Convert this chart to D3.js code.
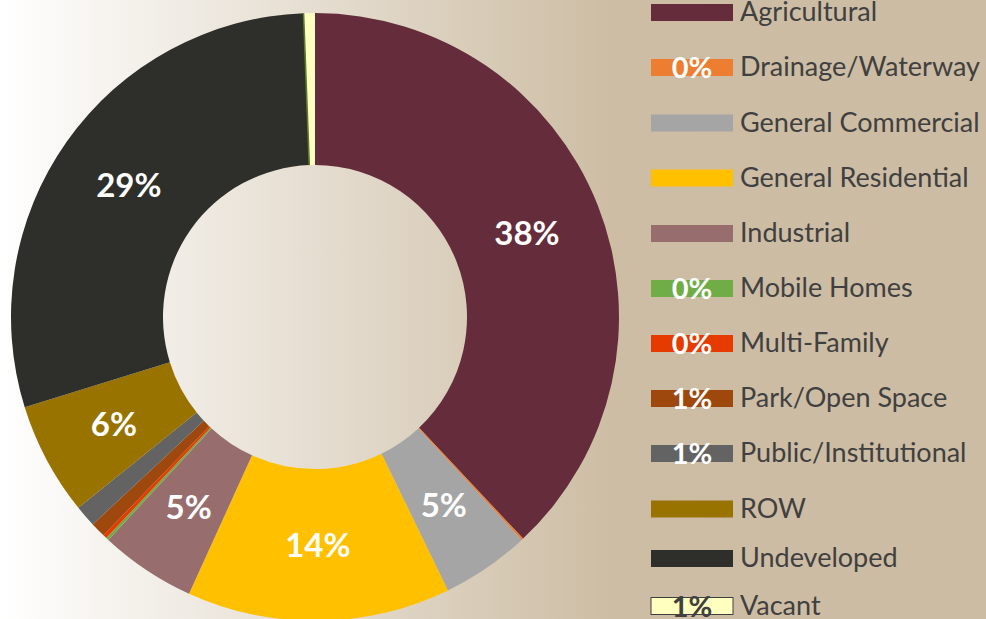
<!DOCTYPE html>
<html>
<head>
<meta charset="utf-8">
<script src="https://cdn.jsdelivr.net/npm/d3@7"></script>
<style>
  html, body { margin: 0; padding: 0; background: #cdbda4; }
  svg { display: block; }
</style>
</head>
<body>
<svg id="chart" width="986" height="619"></svg>
<script>
// Land use categories and their share of total area (%)
const categories = [
  "Agricultural", "Drainage/Waterway", "General Commercial", "General Residential",
  "Industrial", "Mobile Homes", "Multi-Family", "Park/Open Space",
  "Public/Institutional", "ROW", "Undeveloped", "Vacant"
];
const shares = [38.0, 0.1, 4.7, 14.0, 5.1, 0.15, 0.2, 0.8, 1.15, 6.0, 29.2, 0.6];
const colors = [
  "#652c3b", "#ed7d31", "#a5a5a5", "#ffc000",
  "#976d6e", "#70ad47", "#e53a00", "#9e480e",
  "#636363", "#997300", "#2e2f2a", "#ffffc0"
];

const W = 986, H = 619;
const cx = 315, cy = 317, rOuter = 304, rInner = 152;
const font = "Lato, 'Open Sans', 'DejaVu Sans', sans-serif";

const svg = d3.select("#chart");

// Background: soft horizontal wash from white to tan
const defs = svg.append("defs");
const grad = defs.append("linearGradient").attr("id", "bg")
  .attr("x1", 0).attr("y1", 0).attr("x2", 1).attr("y2", 0);
grad.append("stop").attr("offset", "0%").attr("stop-color", "#ffffff");
grad.append("stop").attr("offset", "62%").attr("stop-color", "#cdbda4");
grad.append("stop").attr("offset", "100%").attr("stop-color", "#ccbca3");
svg.append("rect").attr("width", W).attr("height", H).attr("fill", "url(#bg)");

const data = categories.map((c, i) => ({ name: c, value: shares[i], color: colors[i] }));
const total = d3.sum(shares);
const pct = d => Math.round(d.value / total * 100) + "%";

const pie = d3.pie().value(d => d.value).sort(null);
const arcs = pie(data);
const arc = d3.arc().innerRadius(rInner).outerRadius(rOuter);
const labelArc = d3.arc().innerRadius((rInner + rOuter) / 2).outerRadius((rInner + rOuter) / 2);

const g = svg.append("g").attr("transform", `translate(${cx},${cy})`);

g.selectAll("path.slice")
  .data(arcs)
  .join("path")
  .attr("class", "slice")
  .attr("d", arc)
  .attr("fill", d => d.data.color);

// Thin green edge on the leading side of the Vacant slice
const vacant = arcs[arcs.length - 1];
g.append("line")
  .attr("x1", rInner * Math.sin(vacant.startAngle))
  .attr("y1", -rInner * Math.cos(vacant.startAngle))
  .attr("x2", rOuter * Math.sin(vacant.startAngle))
  .attr("y2", -rOuter * Math.cos(vacant.startAngle))
  .attr("stroke", "#5b7a2b")
  .attr("stroke-width", 1.6);

// Percentage labels inside the larger slices
const bigThreshold = 2;
g.selectAll("text.inlabel")
  .data(arcs.filter(d => d.data.value >= bigThreshold))
  .join("text")
  .attr("class", "inlabel")
  .attr("x", d => labelArc.centroid(d)[0])
  .attr("y", d => labelArc.centroid(d)[1] + 12)
  .attr("text-anchor", "middle")
  .attr("font-family", font)
  .attr("font-weight", 700)
  .attr("font-size", 33)
  .attr("fill", "#ffffff")
  .text(d => pct(d.data));

// Legend
const legendRowY = [12.5, 67.5, 123, 178, 233.5, 288.5, 343.5, 398.5, 453.5, 509, 558.5, 606];
const swX = 651, swW = 82, swH = 17, textX = 740;

const legend = svg.append("g");
const rows = legend.selectAll("g.row")
  .data(data)
  .join("g")
  .attr("class", "row")
  .attr("transform", (d, i) => `translate(0,${legendRowY[i]})`);

rows.append("rect")
  .attr("x", swX).attr("y", -swH / 2)
  .attr("width", swW).attr("height", swH)
  .attr("fill", d => d.color)
  .attr("stroke", d => d.name === "Vacant" ? "#404040" : "none")
  .attr("stroke-width", 1);

rows.append("text")
  .attr("x", textX).attr("y", 8.5)
  .attr("font-family", font)
  .attr("font-size", 27)
  .attr("fill", "#404040")
  .text(d => d.name);

// Small-slice percentages sit on their legend swatches
rows.filter(d => d.value < bigThreshold)
  .append("text")
  .attr("x", swX + swW / 2).attr("y", 10.5)
  .attr("text-anchor", "middle")
  .attr("font-family", font)
  .attr("font-weight", 700)
  .attr("font-size", 29)
  .attr("fill", d => d.name === "Vacant" ? "#404040" : "#ffffff")
  .text(d => pct(d));
</script>
</body>
</html>
